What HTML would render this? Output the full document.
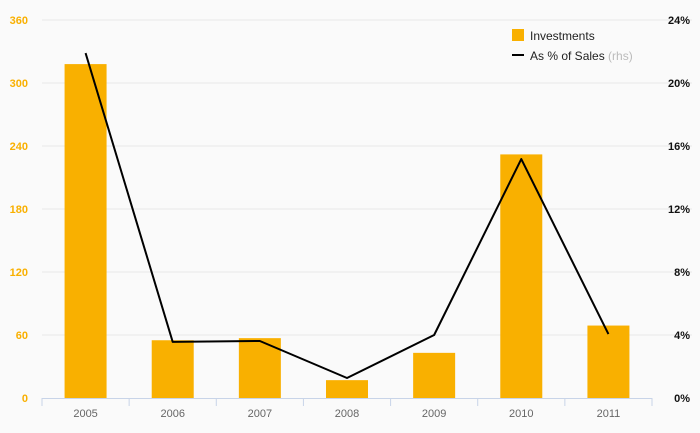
<!DOCTYPE html>
<html><head><meta charset="utf-8"><style>
body{margin:0;background:#fafafa;font-family:"Liberation Sans","DejaVu Sans",sans-serif}
svg{display:block}
</style></head><body>
<svg id="c" width="700" height="433" xmlns="http://www.w3.org/2000/svg">
<rect width="700" height="433" fill="#fafafa"/>
<g id="grid"></g><g id="bars"></g><g id="axes"></g><g id="line"></g>
<g>
<rect x="512" y="29" width="12" height="12" fill="#f9b000"/>
<text x="530" y="40" font-size="12" fill="#222">Investments</text>
<line x1="512" y1="55" x2="524" y2="55" stroke="#000" stroke-width="2"/>
<text x="530" y="60" font-size="12" fill="#222">As % of Sales <tspan fill="#bbb">(rhs)</tspan></text>
</g>
</svg>
<script>
const categories=["2005","2006","2007","2008","2009","2010","2011"];
const investments=[318,55,57,17,43,232,69];
const pctSales=[21.9,3.56,3.62,1.27,4.0,15.17,4.06];
const leftTicks=[0,60,120,180,240,300,360];
const rightTicks=[0,4,8,12,16,20,24];
const NS="http://www.w3.org/2000/svg";
const X0=42,X1=652,Y0=398,Y1=20;
const bw=(X1-X0)/categories.length;
const yL=v=>Y0-(v/360)*(Y0-Y1);
const yR=v=>Y0-(v/24)*(Y0-Y1);
const xc=i=>X0+bw*(i+0.5);
function mk(t,a,p){const e=document.createElementNS(NS,t);for(const k in a)e.setAttribute(k,a[k]);p.appendChild(e);return e;}
const grid=document.getElementById('grid'),bars=document.getElementById('bars'),axes=document.getElementById('axes'),lineG=document.getElementById('line');
leftTicks.forEach((v,i)=>{
 if(i>0){const g=mk('line',{x1:X0,x2:X1+40,y1:yL(v),y2:yL(v),stroke:'#e8e8e8','stroke-width':1},grid);
 
 }
 const t=mk('text',{x:28,y:yL(v)+4,'text-anchor':'end','font-size':11,'font-weight':'bold',fill:'#f9b000'},axes);
 t.textContent=v;
 
 
});
rightTicks.forEach(v=>{
 const t=mk('text',{x:690,y:yR(v)+4,'text-anchor':'end','font-size':11,'font-weight':'bold',fill:'#111'},axes);
 t.textContent=v+'%';
 
 
});
investments.forEach((v,i)=>{
 const r=mk('rect',{x:xc(i)-21,y:yL(v),width:42,height:Y0-yL(v),fill:'#f9b000'},bars);
 
 
});
const ax=mk('line',{x1:X0,x2:X1,y1:Y0+0.5,y2:Y0+0.5,stroke:'#c8d4e8'},axes);


for(let i=0;i<=categories.length;i++){
 const tk=mk('line',{x1:X0+bw*i,x2:X0+bw*i,y1:Y0,y2:Y0+8,stroke:'#c8d4e8'},axes);
 
 
}
categories.forEach((c,i)=>{
 const t=mk('text',{x:xc(i),y:417,'text-anchor':'middle','font-size':11,fill:'#666'},axes);
 t.textContent=c;
 
 
});
const pts=pctSales.map((v,i)=>xc(i)+','+yR(v)).join(' ');
const pl=mk('polyline',{points:pts,fill:'none',stroke:'#000','stroke-width':2,'stroke-linejoin':'round'},lineG);


</script>
</body></html>
